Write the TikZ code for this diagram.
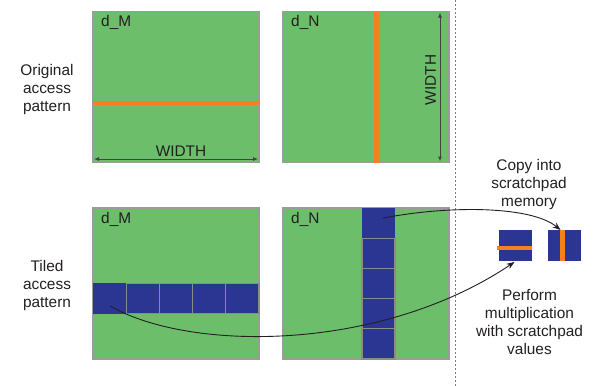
\documentclass[tikz,border=0pt]{standalone}
\usepackage{fontspec}
\setmainfont{Liberation Sans}
\usetikzlibrary{arrows.meta, positioning, calc}
\definecolor{matgreen}{RGB}{108, 190, 106}
\definecolor{tileblue}{RGB}{43, 54, 146}
\definecolor{accorange}{RGB}{245, 128, 32}
\definecolor{framegray}{RGB}{155, 155, 155}
\definecolor{inkgray}{RGB}{35, 31, 32}
\tikzset{
  matbox/.style={draw=framegray, line width=1.3pt, fill=matgreen, minimum width=166pt, minimum height=151pt, inner sep=0pt, outer sep=0pt},
  tile/.style={draw=framegray!90!black, line width=1.3pt, fill=tileblue, minimum width=33.2pt, minimum height=30.2pt, inner sep=0pt, outer sep=0pt},
  hottile/.style={tile, draw=none},
  matname/.style={anchor=north west, inner sep=0pt, font=\fontsize{15.4}{18}\selectfont, text=inkgray},
  caption/.style={align=center, inner sep=0pt, font=\fontsize{15.4}{18}\selectfont, text=inkgray},
  accline/.style={accorange, line width=4.5pt},
  dimarrow/.style={{Latex[length=5pt,width=4pt]}-{Latex[length=5pt,width=4pt]}, inkgray!85, line width=0.9pt},
  copyarrow/.style={-{Stealth[length=8pt,width=6pt]}, inkgray, line width=0.9pt},
  divider/.style={framegray!80!black, line width=1pt, dash pattern=on 2pt off 2pt},
}

\begin{document}
\begin{tikzpicture}[x=1pt, y=-1pt]
  \useasboundingbox (0,0) rectangle (614,386);

  % row labels
  \node[caption] (orig) at (47,90) {Original\\access\\pattern};
  \node[caption] (tiled) at (47,286) {Tiled\\access\\pattern};

  % original access pattern
  \node[matbox] (om) at (176,87) {};
  \node[matbox] (on) at (366,87) {};
  \node[matname] (omname) at ($(om.north west)+(8,4)$) {d\_M};
  \node[matname] (onname) at ($(on.north west)+(8,4)$) {d\_N};
  \draw[accline] ($(om.west)+(0,16)$) -- ($(om.east)+(0,16)$);
  \draw[accline, line width=5pt] ($(on.north)+(10,0)$) -- ($(on.south)+(10,0)$);
  \draw[dimarrow] ($(om.south west)+(1,-3.5)$) -- ($(om.south east)+(-1,-3.5)$)
    node[caption, midway, xshift=5pt, yshift=8pt] (omw) {WIDTH};
  \draw[dimarrow] ($(on.north east)+(-9,1)$) -- ($(on.south east)+(-9,-1)$);
  \node[caption, rotate=90] (onw) at ($(on.east)+(-18.5,-7)$) {WIDTH};

  % tiled access pattern
  \node[matbox] (bm) at (176,283.5) {};
  \node[matbox] (bn) at (366,283.5) {};
  \node[matname] (bmname) at ($(bm.north west)+(8,4)$) {d\_M};
  \node[matname] (bnname) at ($(bn.north west)+(8,4)$) {d\_N};
  \node[hottile, anchor=west] (mt1) at ($(bm.west)+(0,15)$) {};
  \foreach \i [count=\j from 2] in {1,...,4}
    \node[tile, right=0pt of mt\i] (mt\j) {};
  \node[hottile, anchor=north] (nt1) at ($(bn.north)+(12.5,0)$) {};
  \foreach \i [count=\j from 2] in {1,...,4}
    \node[tile, below=0pt of nt\i] (nt\j) {};

  % divider
  \draw[divider] (455,0) -- (455,386);

  % scratchpad
  \node[hottile, minimum height=31pt] (spm) at (515.5,245.5) {};
  \node[hottile, minimum height=31pt] (spn) at (564.5,245.5) {};
  \draw[accline, line width=4pt] ($(spm.west)+(-1.5,2.5)$) -- ($(spm.east)+(0,2.5)$);
  \draw[accline, line width=5pt] ($(spn.north)+(-2.5,0)$) -- ($(spn.south)+(-2.5,0)$);
  \node[caption] (copytxt) at (529,184.5) {Copy into\\scratchpad\\memory};
  \node[caption] (multtxt) at (529.5,321.5) {Perform\\multiplication\\with scratchpad\\values};

  % data movement
  \coordinate (cs1) at ($(nt1.center)+(4.5,-5)$);
  \coordinate (ce1) at ($(spn.north)+(-4,0)$);
  \draw[copyarrow] (cs1) .. controls +(67,-13) and +(-29,-24) .. (ce1);
  \coordinate (cs2) at ($(mt1.center)+(0.5,7.5)$);
  \coordinate (ce2) at ($(spm.south)+(-1,1)$);
  \draw[copyarrow] (cs2) .. controls +(80,46) and +(-134,90) .. (ce2);
\end{tikzpicture}
\end{document}
